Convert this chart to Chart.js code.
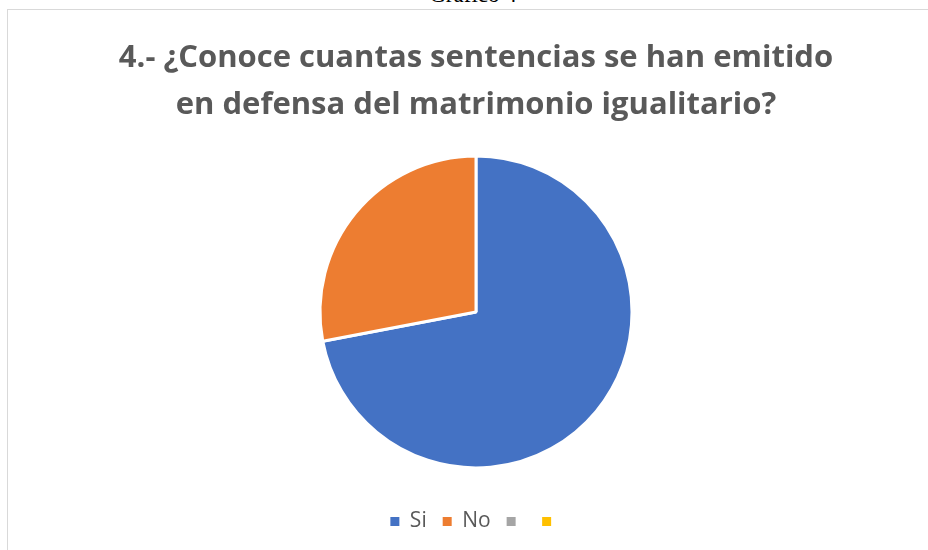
<!DOCTYPE html>
<html>
<head>
<meta charset="utf-8">
<script src="https://cdn.jsdelivr.net/npm/chart.js@4"></script>
<style>
    body { margin: 0; width: 928px; height: 550px; overflow: hidden; background: #fff; position: relative; }
    #cabecera { position: absolute; left: 0; width: 946px; top: -18px; text-align: center;
        font-family: 'Liberation Serif', 'Times New Roman', serif; font-size: 23px; color: #000; }
    #marco { position: absolute; left: 7px; top: 9px; width: 936px; height: 560px; border: 1px solid #d9d9d9; }
</style>
</head>
<body>
<div id="cabecera">Gráfico  4</div>
<div id="marco"><canvas id="grafico" width="936" height="545"></canvas></div>
<script>
// --- datos del gráfico ---
const categorias = ['Si', 'No', '', ''];
const valores = [72, 28, 0, 0];
const colores = ['#4472C4', '#ED7D31', '#A5A5A5', '#FFC000'];
const titulo = ['4.- ¿Conoce cuantas sentencias se han emitido', 'en defensa del matrimonio igualitario?'];

new Chart(document.getElementById('grafico'), {
    type: 'pie',
    data: {
        labels: categorias,
        datasets: [{
            data: valores,
            backgroundColor: colores,
            borderColor: '#ffffff',
            borderWidth: 3,
            radius: 156
        }]
    },
    options: {
        responsive: false,
        devicePixelRatio: 1,
        animation: false,
        layout: { padding: { top: 0, bottom: 13 } },
        plugins: {
            title: {
                display: true,
                text: titulo,
                color: '#595959',
                font: { family: 'Open Sans', size: 31, weight: 'bold', lineHeight: 1.53 },
                padding: { top: 24, bottom: 0 }
            },
            legend: {
                position: 'bottom',
                labels: {
                    color: '#595959',
                    font: { family: 'Open Sans', size: 21 },
                    boxWidth: 9,
                    boxHeight: 9,
                    padding: 16,
                    // cuadritos sin el borde blanco de las porciones
                    generateLabels: (chart) => {
                        const base = Chart.controllers.pie.overrides.plugins.legend.labels.generateLabels(chart);
                        return base.map(l => ({ ...l, lineWidth: 0, strokeStyle: l.fillStyle }));
                    }
                }
            },
            tooltip: { enabled: false }
        }
    }
});
</script>
</body>
</html>
